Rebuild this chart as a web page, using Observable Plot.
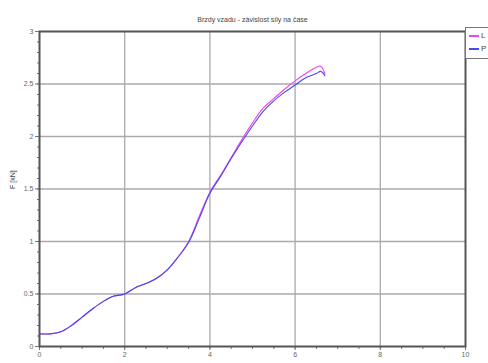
<!DOCTYPE html>
<html>
<head>
<meta charset="utf-8">
<script src="https://cdn.jsdelivr.net/npm/d3@7"></script>
<script src="https://cdn.jsdelivr.net/npm/@observablehq/plot@0.6"></script>
<style>
  html, body { margin: 0; padding: 0; background: #fff; overflow: hidden; }
  #wrap { position: relative; width: 488px; height: 363px; font-family: "Liberation Sans", Arial, sans-serif; }
  #legend { position: absolute; left: 465px; top: 27px; width: 40px; height: 30px; border: 1px solid #777; background: #fff; font-size: 8px; color: #444; }
  #legend div { position: relative; height: 11px; line-height: 11px; padding-left: 15px; margin-top: 2px; }
  #legend span.sw { position: absolute; left: 3px; top: 5px; width: 10px; height: 2px; }
</style>
</head>
<body>
<div id="wrap"></div>
<script>
const title = "Brzdy vzadu - závislost síly na čase";
const yLabel = "F [kN]";
const seriesNames = ["L", "P"];
const seriesColors = ["#ee44ee", "#4848ee"];
const time = [0, 0.25, 0.5, 0.75, 1, 1.25, 1.5, 1.75, 2, 2.25, 2.5, 2.75, 3, 3.25, 3.5, 3.75, 4, 4.25, 4.5, 4.75, 5, 5.25, 5.5, 5.75, 6, 6.25, 6.5, 6.6, 6.7];
const forceL = [0.12, 0.12, 0.14, 0.20, 0.28, 0.36, 0.43, 0.48, 0.50, 0.56, 0.60, 0.65, 0.73, 0.85, 1.00, 1.24, 1.47, 1.63, 1.80, 1.97, 2.13, 2.27, 2.36, 2.45, 2.53, 2.60, 2.66, 2.67, 2.60];
const forceP = [0.12, 0.12, 0.14, 0.20, 0.28, 0.36, 0.43, 0.48, 0.50, 0.56, 0.60, 0.65, 0.73, 0.85, 0.99, 1.22, 1.46, 1.62, 1.79, 1.95, 2.10, 2.24, 2.34, 2.42, 2.49, 2.56, 2.60, 2.62, 2.58];
const xTicks = [0, 2, 4, 6, 8, 10];
const yTicks = [0, 0.5, 1, 1.5, 2, 2.5, 3];

const data = [];
time.forEach((t, i) => {
  data.push({t, f: forceL[i], s: seriesNames[0]});
  data.push({t, f: forceP[i], s: seriesNames[1]});
});

const chart = Plot.plot({
  width: 488,
  height: 363,
  marginLeft: 39,
  marginRight: 23,
  marginTop: 31,
  marginBottom: 17,
  style: {fontFamily: "Liberation Sans, Arial, sans-serif", fontSize: "7px", color: "#555", background: "#fff"},
  x: {domain: [0, 10], label: null},
  y: {domain: [0, 3], label: null},
  color: {domain: seriesNames, range: seriesColors},
  marks: [
    Plot.gridX(xTicks.slice(1, -1), {stroke: "#aaa", strokeOpacity: 1, strokeWidth: 1.3}),
    Plot.gridY(yTicks.slice(1, -1), {stroke: "#aaa", strokeOpacity: 1, strokeWidth: 1.3}),
    Plot.axisX(d3.range(0, 10.001, 0.5), {tickSize: 3, tickFormat: () => "", stroke: "#777"}),
    Plot.axisX(xTicks, {tickSize: 4, tickPadding: 2, stroke: "#777", fill: "#666", tickFormat: d => String(d)}),
    Plot.axisY(d3.range(0, 3.001, 0.1), {tickSize: 2, tickFormat: () => "", stroke: "#777"}),
    Plot.axisY(yTicks, {tickSize: 4, tickPadding: 2, stroke: "#777", fill: "#666", tickFormat: d => String(d)}),
    Plot.line(data, {x: "t", y: "f", z: "s", stroke: "s", strokeWidth: 1.1, curve: "catmull-rom"}),
    Plot.frame({stroke: "#555", strokeWidth: 2}),
    Plot.text([title], {frameAnchor: "top", dy: -14, fontSize: 7, fill: "#444"}),
    Plot.text([yLabel], {frameAnchor: "left", dx: -27, rotate: -90, fontSize: 7, fill: "#444"})
  ]
});

const wrap = document.getElementById("wrap");
wrap.appendChild(chart);
const legend = document.createElement("div");
legend.id = "legend";
seriesNames.forEach((n, i) => {
  const row = document.createElement("div");
  const sw = document.createElement("span");
  sw.className = "sw";
  sw.style.background = seriesColors[i];
  row.appendChild(sw);
  row.appendChild(document.createTextNode(n));
  legend.appendChild(row);
});
wrap.appendChild(legend);
</script>
</body>
</html>
